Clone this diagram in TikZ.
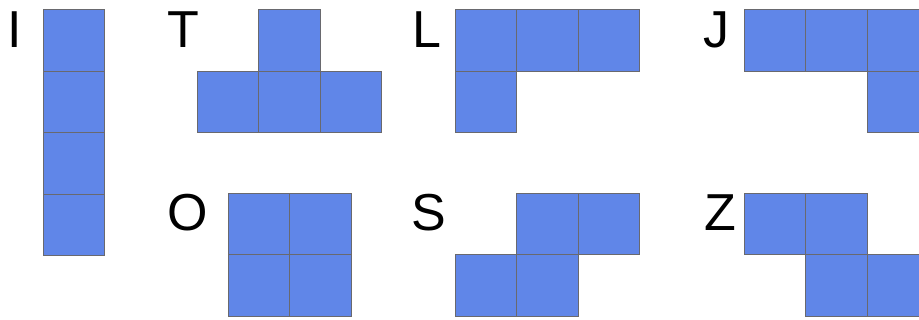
\documentclass[tikz,border=0pt]{standalone}
\usepackage{fontspec}
\setmainfont{Liberation Sans}
\definecolor{cellblue}{RGB}{96,134,232}
\definecolor{cellline}{RGB}{105,105,110}
\tikzset{
  cell/.style={fill=cellblue, draw=cellline, line width=1pt},
  lbl/.style={inner sep=0pt, anchor=base, font=\fontsize{52}{52}\selectfont}
}
\newcommand{\tcell}[2]{\draw[cell] (#1,#2) rectangle ++(61.5,61.5);}
\begin{document}
\begin{tikzpicture}[x=1pt,y=-1pt]
\useasboundingbox (0,0) rectangle (919,320);
\clip (0,0) rectangle (919,320);
% I
\tcell{43}{10}\tcell{43}{71.5}\tcell{43}{133}\tcell{43}{194.5}
% T
\tcell{258.5}{10}\tcell{197}{71.5}\tcell{258.5}{71.5}\tcell{320}{71.5}
% L
\tcell{455}{10}\tcell{516.5}{10}\tcell{578}{10}\tcell{455}{71.5}
% J
\tcell{744}{10}\tcell{805.5}{10}\tcell{867}{10}\tcell{867}{71.5}
% O
\tcell{228}{193.5}\tcell{289.5}{193.5}\tcell{228}{255}\tcell{289.5}{255}
% S
\tcell{516.5}{193.5}\tcell{578}{193.5}\tcell{455}{255}\tcell{516.5}{255}
% Z
\tcell{744}{193.5}\tcell{805.5}{193.5}\tcell{805.5}{255}\tcell{867}{255}
% labels
\node[lbl] (lI) at (14.5,47.5) {I};
\node[lbl] (lT) at (183,47.5) {T};
\node[lbl] (lL) at (427,47.5) {L};
\node[lbl] (lJ) at (716,47.5) {J};
\node[lbl] (lO) at (187.5,230.5) {O};
\node[lbl] (lS) at (428.5,230.5) {S};
\node[lbl] (lZ) at (720,230.5) {Z};
\end{tikzpicture}
\end{document}
